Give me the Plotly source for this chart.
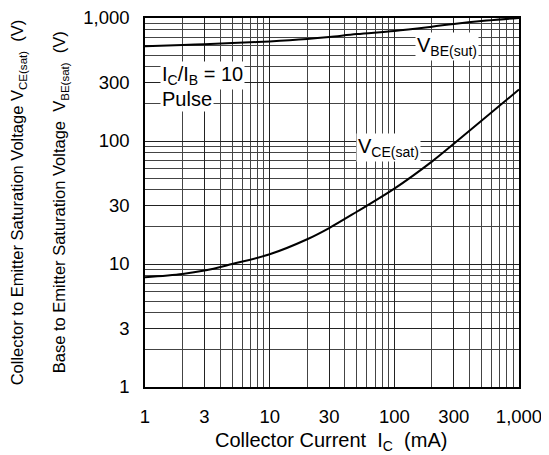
import plotly.graph_objects as go

ic_ma = [1, 2, 3, 5, 10, 20, 30, 50, 100, 200, 300, 500, 1000]
vce_sat = [7.8, 8.3, 8.85, 10.0, 12.0, 15.9, 19.6, 26.6, 41, 68, 95, 146, 262]
vbe_sat = [590, 603, 612, 625, 645, 675, 700, 740, 785, 850, 895, 945, 1000]

major_vals = [1, 3, 10, 30, 100, 300, 1000]
major_text = ["1", "3", "10", "30", "100", "300", "1,000"]
minor_vals = [m * d for d in (1, 10, 100) for m in (2, 4, 5, 6, 7, 8, 9)]

FONT = "Liberation Sans, Arial, sans-serif"

fig = go.Figure()
fig.add_trace(go.Scatter(x=ic_ma, y=vbe_sat, mode="lines", line=dict(color="black", width=2, shape="spline"),
                         showlegend=False, hoverinfo="skip"))
fig.add_trace(go.Scatter(x=ic_ma, y=vce_sat, mode="lines", line=dict(color="black", width=2, shape="spline"),
                         showlegend=False, hoverinfo="skip"))

axis_common = dict(type="log", range=[0, 3], showgrid=True, gridcolor="#222", gridwidth=1, zeroline=False,
                   showline=True, linecolor="black", linewidth=1.5, mirror=True, ticks="",
                   tickfont=dict(family=FONT, size=18.5, color="black"),
                   tickvals=major_vals, ticktext=major_text, ticklabeloverflow="allow",
                   minor=dict(tickvals=minor_vals, showgrid=True, gridcolor="#444", gridwidth=1, ticks=""))

fig.update_xaxes(ticklabelstandoff=12, **axis_common)
fig.update_yaxes(ticklabelstandoff=10, **axis_common)

lab_font = dict(family=FONT, size=20, color="black")
annotations = [
    dict(x=2.42, y=2.77, xref="x", yref="y", text="V<sub>BE(sut)</sub>", showarrow=False,
         font=lab_font, bgcolor="white", borderpad=1),
    dict(x=1.95, y=1.95, xref="x", yref="y", text="V<sub>CE(sat)</sub>", showarrow=False,
         font=lab_font, bgcolor="white", borderpad=1),
    dict(x=0.12, y=2.53, xref="x", yref="y", xanchor="left", text="I<sub>C</sub>/I<sub>B</sub> = 10",
         showarrow=False, font=lab_font, bgcolor="white", borderpad=1),
    dict(x=0.12, y=2.34, xref="x", yref="y", xanchor="left", text="Pulse", showarrow=False,
         font=lab_font, bgcolor="white", borderpad=1),
    dict(x=0.498, y=-0.148, xref="paper", yref="paper", xanchor="center", yanchor="middle",
         text="Collector Current  I<sub>C</sub>  (mA)", showarrow=False,
         font=dict(family=FONT, size=20, color="black")),
    dict(x=-0.34, y=0.5, xref="paper", yref="paper", xanchor="center", yanchor="middle", textangle=-90,
         text="Collector to Emitter Saturation Voltage V<sub>CE(sat)</sub>  (V)", showarrow=False,
         font=dict(family=FONT, size=16.5, color="black")),
    dict(x=-0.228, y=0.5, xref="paper", yref="paper", xanchor="center", yanchor="middle", textangle=-90,
         text="Base to Emitter Saturation Voltage  V<sub>BE(sat)</sub>  (V)", showarrow=False,
         font=dict(family=FONT, size=16.5, color="black")),
]

# the page body adds an 8px offset; size the figure so the plot area sits where the reference has it
fig.update_layout(width=541, height=447, margin=dict(l=137, r=30, t=10, b=68, autoexpand=False),
                  paper_bgcolor="white", plot_bgcolor="white", annotations=annotations)

fig.write_html("out.html")
